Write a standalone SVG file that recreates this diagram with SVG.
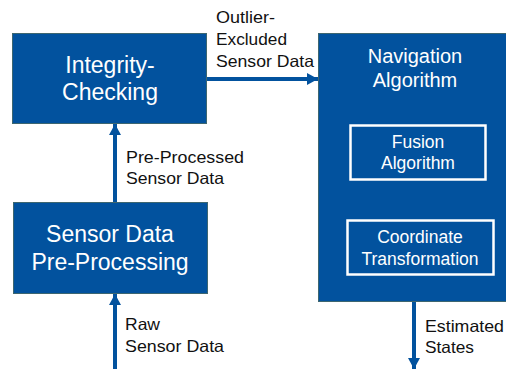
<svg xmlns="http://www.w3.org/2000/svg" width="506" height="369" viewBox="0 0 506 369">
  <style>
    .box { fill: #02529e; stroke: #3d6670; stroke-width: 1; }
    .inner { fill: none; stroke: #ffffff; stroke-width: 2.5; }
    .wt { fill: #ffffff; font-family: "Liberation Sans", Arial, sans-serif; text-anchor: middle; }
    .lbl { fill: #111111; font-family: "Liberation Sans", Arial, sans-serif; font-size: 16.5px; }
    .wire { stroke: #02529e; stroke-width: 4; fill: none; }
  </style>
  <defs>
    <marker id="head" markerUnits="userSpaceOnUse" markerWidth="12" markerHeight="12" refX="11" refY="6" orient="auto">
      <path d="M0,0 L11,6 L0,12 Z" fill="#02529e"/>
    </marker>
  </defs>

  <g id="connectors">
    <line class="wire" x1="115" y1="369" x2="115" y2="294" marker-end="url(#head)"/>
    <line class="wire" x1="115" y1="202" x2="115" y2="124" marker-end="url(#head)"/>
    <line class="wire" x1="206" y1="79" x2="318" y2="79" marker-end="url(#head)"/>
    <line class="wire" x1="414" y1="301" x2="414" y2="369" marker-end="url(#head)"/>
  </g>

  <g id="labels">
    <text class="lbl" x="216" y="23" textLength="59" lengthAdjust="spacingAndGlyphs">Outlier-</text>
    <text class="lbl" x="216" y="45" textLength="71" lengthAdjust="spacingAndGlyphs">Excluded</text>
    <text class="lbl" x="216" y="67" textLength="98" lengthAdjust="spacingAndGlyphs">Sensor Data</text>
    <text class="lbl" x="126" y="163" textLength="118" lengthAdjust="spacingAndGlyphs">Pre-Processed</text>
    <text class="lbl" x="126" y="184" textLength="98" lengthAdjust="spacingAndGlyphs">Sensor Data</text>
    <text class="lbl" x="125" y="330" textLength="35" lengthAdjust="spacingAndGlyphs">Raw</text>
    <text class="lbl" x="125" y="352" textLength="99" lengthAdjust="spacingAndGlyphs">Sensor Data</text>
    <text class="lbl" x="425" y="332" textLength="79" lengthAdjust="spacingAndGlyphs">Estimated</text>
    <text class="lbl" x="425" y="353" textLength="49" lengthAdjust="spacingAndGlyphs">States</text>
  </g>

  <g id="integrity-checking">
    <rect class="box" x="12.5" y="33.5" width="194" height="90"/>
    <text class="wt" x="110" y="73" font-size="23">Integrity-</text>
    <text class="wt" x="110" y="100" font-size="23">Checking</text>
  </g>

  <g id="sensor-preprocessing">
    <rect class="box" x="13.5" y="202.5" width="194" height="91"/>
    <text class="wt" x="110" y="242" font-size="23">Sensor Data</text>
    <text class="wt" x="110" y="270" font-size="23">Pre-Processing</text>
  </g>

  <g id="navigation-algorithm">
    <rect class="box" x="318.5" y="33.5" width="190" height="268"/>
    <text class="wt" x="415" y="63" font-size="20">Navigation</text>
    <text class="wt" x="415" y="87" font-size="20">Algorithm</text>
  </g>

  <g id="fusion-algorithm">
    <rect class="inner" x="350.5" y="125.5" width="135" height="54"/>
    <text class="wt" x="418" y="148" font-size="17.5">Fusion</text>
    <text class="wt" x="418" y="169" font-size="17.5">Algorithm</text>
  </g>

  <g id="coordinate-transformation">
    <rect class="inner" x="347.5" y="220.5" width="146" height="54"/>
    <text class="wt" x="420" y="243" font-size="17.5">Coordinate</text>
    <text class="wt" x="420" y="265" font-size="17.5">Transformation</text>
  </g>
</svg>
